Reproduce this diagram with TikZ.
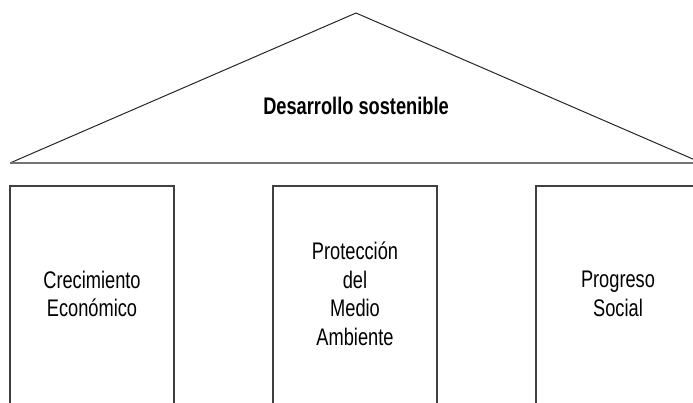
\documentclass[tikz,border=0pt]{standalone}
\usepackage{fontspec}
\setmainfont[FakeStretch=0.76]{Liberation Sans}
\tikzset{
  pillar/.style={draw=black!75,line width=1.2bp,minimum width=164bp,minimum height=224bp,inner sep=0pt},
  pillartext/.style={align=center,inner sep=0pt}
}
\begin{document}
\begin{tikzpicture}[x=1bp,y=-1bp,font=\fontsize{24bp}{28.5bp}\selectfont]
\useasboundingbox (0,0) rectangle (693,402);
\clip (0,0) rectangle (693,402);

\begin{scope}
\coordinate (a) at (10,163);
\coordinate (c) at (356,13);
\coordinate (b) at (702,163);
\draw[black!85,line width=1bp] (a) -- (c) -- (b);
\draw[black!55,line width=2bp] (a) -- (b);
\node[inner sep=0pt,font=\bfseries\fontsize{24bp}{28.5bp}\selectfont] (roof) at (356,106) {Desarrollo sostenible};
\end{scope}

\begin{scope}
\node[pillar] (eco) at (92,298) {};
\node[pillartext] (ecotext) at (92,294) {Crecimiento\\Económico};
\node[pillar] (env) at (355,298) {};
\node[pillartext] (envtext) at (355,294) {Protección\\del\\Medio\\Ambiente};
\node[pillar] (soc) at (618,298) {};
\node[pillartext] (soctext) at (618,294) {Progreso\\Social};
\end{scope}

\end{tikzpicture}
\end{document}
